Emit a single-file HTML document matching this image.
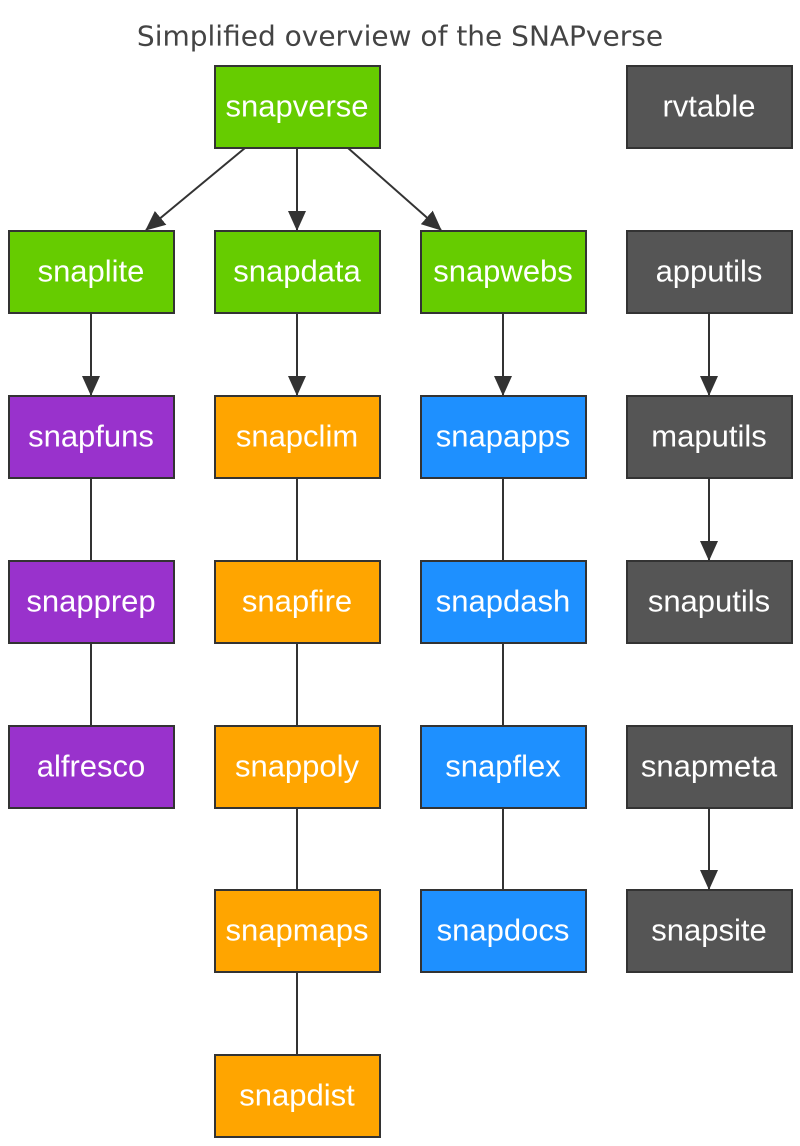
<!DOCTYPE html>
<html><head><meta charset="utf-8"><style>
html,body{margin:0;padding:0;background:#fff;}
svg{display:block;}
.t{font-family:"Liberation Sans",sans-serif;font-size:31px;fill:#fff;text-anchor:middle;dominant-baseline:central;}
</style></head><body>
<svg width="800" height="1146" viewBox="0 0 800 1146" xmlns="http://www.w3.org/2000/svg">
<defs>
<marker id="a" markerWidth="20" markerHeight="18" refX="19" refY="9" orient="auto" markerUnits="userSpaceOnUse">
<path d="M0,0 L20,9 L0,18 Z" fill="#333"/>
</marker>
</defs>
<text x="400" y="36" text-anchor="middle" dominant-baseline="central" font-family="'DejaVu Sans',sans-serif" font-size="28" fill="#444">Simplified overview of the SNAPverse</text>
<g stroke="#333" stroke-width="2" fill="none">
<line x1="245" y1="148" x2="146" y2="230" marker-end="url(#a)"/>
<line x1="297" y1="148" x2="297" y2="230" marker-end="url(#a)"/>
<line x1="348" y1="148" x2="441" y2="230" marker-end="url(#a)"/>
<line x1="91" y1="313" x2="91" y2="395" marker-end="url(#a)"/>
<line x1="297" y1="313" x2="297" y2="395" marker-end="url(#a)"/>
<line x1="503" y1="313" x2="503" y2="395" marker-end="url(#a)"/>
<line x1="709" y1="313" x2="709" y2="395" marker-end="url(#a)"/>
<line x1="709" y1="478" x2="709" y2="560" marker-end="url(#a)"/>
<line x1="709" y1="808" x2="709" y2="889" marker-end="url(#a)"/>
<line x1="91" y1="478" x2="91" y2="561"/>
<line x1="91" y1="643" x2="91" y2="726"/>
<line x1="297" y1="478" x2="297" y2="1055"/>
<line x1="503" y1="478" x2="503" y2="890"/>
</g>
<g stroke="#333" stroke-width="2">
<rect x="215" y="66" width="165" height="82" fill="#66CC00"/>
<rect x="627" y="66" width="165" height="82" fill="#555"/>
<rect x="9" y="231" width="165" height="82" fill="#66CC00"/>
<rect x="215" y="231" width="165" height="82" fill="#66CC00"/>
<rect x="421" y="231" width="165" height="82" fill="#66CC00"/>
<rect x="627" y="231" width="165" height="82" fill="#555"/>
<rect x="9" y="396" width="165" height="82" fill="#9932CC"/>
<rect x="215" y="396" width="165" height="82" fill="#FFA500"/>
<rect x="421" y="396" width="165" height="82" fill="#1E90FF"/>
<rect x="627" y="396" width="165" height="82" fill="#555"/>
<rect x="9" y="561" width="165" height="82" fill="#9932CC"/>
<rect x="215" y="561" width="165" height="82" fill="#FFA500"/>
<rect x="421" y="561" width="165" height="82" fill="#1E90FF"/>
<rect x="627" y="561" width="165" height="82" fill="#555"/>
<rect x="9" y="726" width="165" height="82" fill="#9932CC"/>
<rect x="215" y="726" width="165" height="82" fill="#FFA500"/>
<rect x="421" y="726" width="165" height="82" fill="#1E90FF"/>
<rect x="627" y="726" width="165" height="82" fill="#555"/>
<rect x="215" y="890" width="165" height="82" fill="#FFA500"/>
<rect x="421" y="890" width="165" height="82" fill="#1E90FF"/>
<rect x="627" y="890" width="165" height="82" fill="#555"/>
<rect x="215" y="1055" width="165" height="82" fill="#FFA500"/>
</g>
<g>
<text class="t" x="297" y="106">snapverse</text>
<text class="t" x="709" y="106">rvtable</text>
<text class="t" x="91" y="271">snaplite</text>
<text class="t" x="297" y="271">snapdata</text>
<text class="t" x="503" y="271">snapwebs</text>
<text class="t" x="709" y="271">apputils</text>
<text class="t" x="91" y="436">snapfuns</text>
<text class="t" x="297" y="436">snapclim</text>
<text class="t" x="503" y="436">snapapps</text>
<text class="t" x="709" y="436">maputils</text>
<text class="t" x="91" y="601">snapprep</text>
<text class="t" x="297" y="601">snapfire</text>
<text class="t" x="503" y="601">snapdash</text>
<text class="t" x="709" y="601">snaputils</text>
<text class="t" x="91" y="766">alfresco</text>
<text class="t" x="297" y="766">snappoly</text>
<text class="t" x="503" y="766">snapflex</text>
<text class="t" x="709" y="766">snapmeta</text>
<text class="t" x="297" y="930">snapmaps</text>
<text class="t" x="503" y="930">snapdocs</text>
<text class="t" x="709" y="930">snapsite</text>
<text class="t" x="297" y="1095">snapdist</text>
</g>
</svg>
</body></html>
